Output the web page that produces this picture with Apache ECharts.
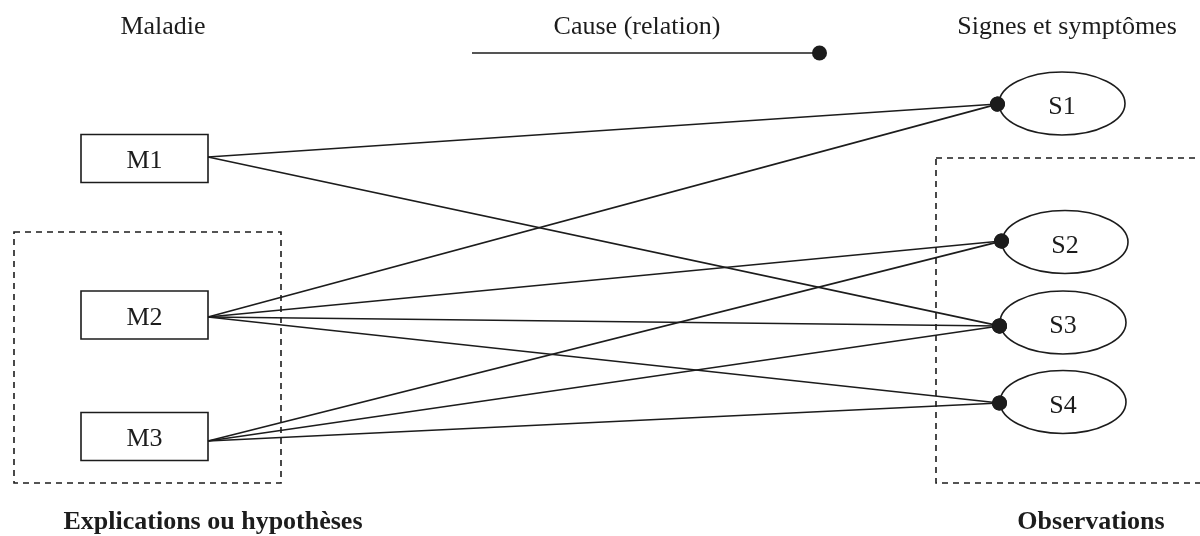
<!DOCTYPE html>
<html>
<head>
<meta charset="utf-8">
<script src="https://cdn.jsdelivr.net/npm/echarts@6/dist/echarts.min.js"></script>
<style>html,body{margin:0;padding:0;background:#fff}#chart{width:1200px;height:536px}</style>
</head>
<body>
<div id="chart"></div>
<script>
// ---- data ----
const diseases = ['M1', 'M2', 'M3'];
const symptoms = ['S1', 'S2', 'S3', 'S4'];
const causes = [
  ['M1', 'S1'], ['M1', 'S3'],
  ['M2', 'S1'], ['M2', 'S2'], ['M2', 'S3'], ['M2', 'S4'],
  ['M3', 'S2'], ['M3', 'S3'], ['M3', 'S4']
];
const headings = ['Maladie', 'Cause (relation)', 'Signes et symptômes'];
const groupLabels = ['Explications ou hypothèses', 'Observations'];

// ---- layout (pixel space of the hidden axes) ----
const boxCenters = [[144.5, 158.5], [144.5, 315], [144.5, 436.5]];
const boxAnchors = [[208, 157], [208, 317], [208, 441]];
const ellCenters = [[1062, 103.5], [1065, 242], [1063, 322.5], [1063, 402]];
const ellAnchors = [[998, 104], [1002, 241], [1000, 326], [1000, 403]];
const headingPos = [[163, 27], [637, 27], [1067, 27]];
const legendLine = [[472, 53], [820, 53]];
const groupPos = [[213, 522], [1091, 522]];
const dashedCenters = [[147.5, 357.5], [1075, 320.5]];
const dashedSizes = [[267, 251], [278, 325]];

const INK = '#1c1c1c';
const FONT_FAMILY = '"Liberation Serif", "DejaVu Serif", serif';
const clear = 'rgba(0,0,0,0)';

// graph: anchor points + causal edges
const nodes = [];
const links = [];
diseases.forEach((d, i) => nodes.push({name: d, value: boxAnchors[i]}));
symptoms.forEach((s, i) => nodes.push({name: s, value: ellAnchors[i]}));
nodes.push({name: 'leg0', value: legendLine[0]});
nodes.push({name: 'leg1', value: legendLine[1]});
links.push({source: 'leg0', target: 'leg1'});
causes.forEach(([m, s]) => links.push({source: m, target: s}));

function textEl(str, x, y, bold) {
  return {
    type: 'text',
    style: {
      text: str, x: x, y: y, align: 'center', verticalAlign: 'middle',
      fontSize: 26, fontFamily: FONT_FAMILY, fontWeight: bold ? 'bold' : 'normal', fill: INK
    }
  };
}

const chart = echarts.init(document.getElementById('chart'), null, {renderer: 'canvas'});
chart.setOption({
  animation: false,
  backgroundColor: '#fff',
  grid: {left: 0, right: 0, top: 0, bottom: 0},
  xAxis: {type: 'value', min: 0, max: 1200, show: false},
  yAxis: {type: 'value', min: 0, max: 536, inverse: true, show: false},
  series: [
    { // dashed group frames
      type: 'custom', z: 1, clip: false, silent: true,
      data: dashedCenters,
      renderItem: function (params, api) {
        const c = api.coord([api.value(0), api.value(1)]);
        const s = dashedSizes[params.dataIndex];
        return {
          type: 'rect',
          shape: {x: c[0] - s[0] / 2, y: c[1] - s[1] / 2, width: s[0], height: s[1]},
          style: {fill: clear, stroke: INK, lineWidth: 1.6, lineDash: [6, 5]}
        };
      }
    },
    { // disease boxes
      type: 'custom', z: 2, clip: false, silent: true,
      data: boxCenters,
      renderItem: function (params, api) {
        const c = api.coord([api.value(0), api.value(1)]);
        const w = 127, h = 48;
        return {
          type: 'group',
          children: [
            {type: 'rect', shape: {x: c[0] - w / 2, y: c[1] - h / 2, width: w, height: h},
             style: {fill: '#fff', stroke: INK, lineWidth: 1.6}},
            textEl(diseases[params.dataIndex], c[0], c[1] + 3, false)
          ]
        };
      }
    },
    { // symptom ellipses
      type: 'custom', z: 2, clip: false, silent: true,
      data: ellCenters,
      renderItem: function (params, api) {
        const c = api.coord([api.value(0), api.value(1)]);
        return {
          type: 'group',
          children: [
            {type: 'ellipse', shape: {cx: c[0], cy: c[1], rx: 63, ry: 31.5},
             style: {fill: '#fff', stroke: INK, lineWidth: 1.6}},
            textEl(symptoms[params.dataIndex], c[0], c[1] + 4, false)
          ]
        };
      }
    },
    { // headings
      type: 'custom', z: 2, clip: false, silent: true,
      data: headingPos,
      renderItem: function (params, api) {
        const c = api.coord([api.value(0), api.value(1)]);
        return textEl(headings[params.dataIndex], c[0], c[1], false);
      }
    },
    { // group labels
      type: 'custom', z: 2, clip: false, silent: true,
      data: groupPos,
      renderItem: function (params, api) {
        const c = api.coord([api.value(0), api.value(1)]);
        return textEl(groupLabels[params.dataIndex], c[0], c[1], true);
      }
    },
    { // causal relations
      type: 'graph', z: 3,
      coordinateSystem: 'cartesian2d',
      layout: 'none',
      silent: true,
      emphasis: {disabled: true},
      symbol: 'circle',
      symbolSize: 1,
      itemStyle: {color: clear},
      label: {show: false},
      data: nodes,
      links: links,
      edgeSymbol: ['none', 'circle'],
      edgeSymbolSize: 15,
      lineStyle: {color: INK, width: 1.6, opacity: 1, curveness: 0}
    }
  ]
});
</script>
</body>
</html>
